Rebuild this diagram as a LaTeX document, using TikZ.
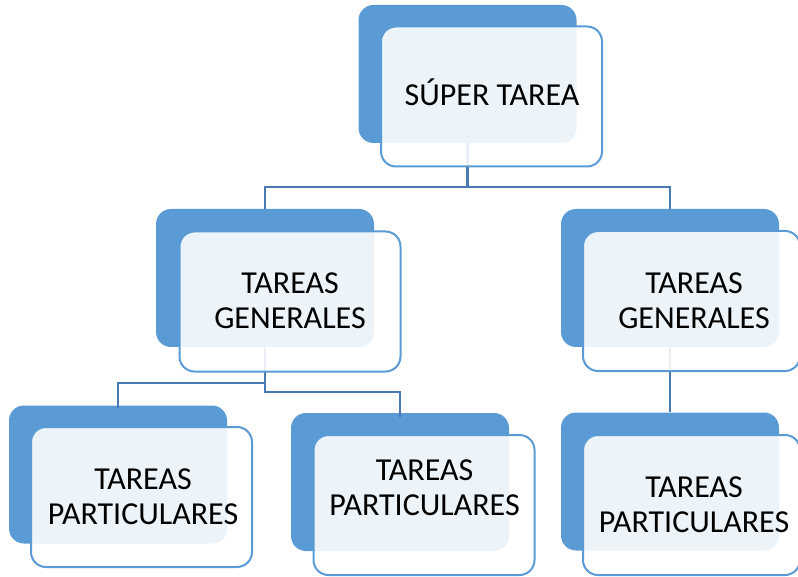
\documentclass[tikz,border=0pt]{standalone}
\usepackage{fontspec}
\setmainfont{Carlito}
\definecolor{backblue}{RGB}{91,155,213}
\definecolor{lineblue}{RGB}{72,122,182}
\begin{document}
\begin{tikzpicture}[x=1pt,y=-1pt,
  backbox/.style={draw=none,fill=backblue,rounded corners=15pt,minimum width=218pt,minimum height=138pt,inner sep=0pt},
  frontbox/.style={draw=backblue,line width=2pt,fill=white,fill opacity=0.89,rounded corners=15pt,minimum width=221pt,minimum height=140pt,inner sep=0pt},
  label text/.style={align=center,font=\fontsize{32}{35}\selectfont,text=black,inner sep=0pt},
  connector/.style={draw=lineblue,line width=2.8pt}]
\useasboundingbox (0,0) rectangle (798,577);
% back boxes
\node[backbox] (sb) at (467.5,74) {};
\node[backbox] (glb) at (265,278) {};
\node[backbox] (grb) at (670,278) {};
\node[backbox] (p1b) at (118,474.5) {};
\node[backbox] (p2b) at (400,482) {};
\node[backbox] (p3b) at (670,481.5) {};
% connectors
\draw[connector] (sb.south) -- (sb.south |- 0,187) -| (glb.north);
\draw[connector] (sb.south |- 0,187) -| (grb.north);
\draw[connector] (glb.south) -- (glb.south |- 0,383) -| ([yshift=-3pt]p1b.north);
\draw[connector] (glb.south |- 0,383) -- (glb.south |- 0,392) -| ([yshift=-4pt]p2b.north);
\draw[connector] (grb.south) -- (p3b.north);
% front boxes
\node[frontbox] (sf) at (491.5,96.5) {};
\node[frontbox] (glf) at (290,301.5) {};
\node[frontbox,minimum width=217pt] (grf) at (691.5,301) {};
\node[frontbox] (p1f) at (141.5,497) {};
\node[frontbox] (p2f) at (424,505) {};
\node[frontbox,minimum width=217pt] (p3f) at (691.5,505) {};
% texts
\node[label text] (st) at (492,92) {SÚPER TAREA};
\node[label text] (glt) at (290,300.5) {TAREAS\\GENERALES};
\node[label text] (grt) at (694,300.5) {TAREAS\\GENERALES};
\node[label text] (p1t) at (143,496.5) {TAREAS\\PARTICULARES};
\node[label text] (p2t) at (424.5,487.5) {TAREAS\\PARTICULARES};
\node[label text] (p3t) at (694,504.5) {TAREAS\\PARTICULARES};
\end{tikzpicture}
\end{document}
